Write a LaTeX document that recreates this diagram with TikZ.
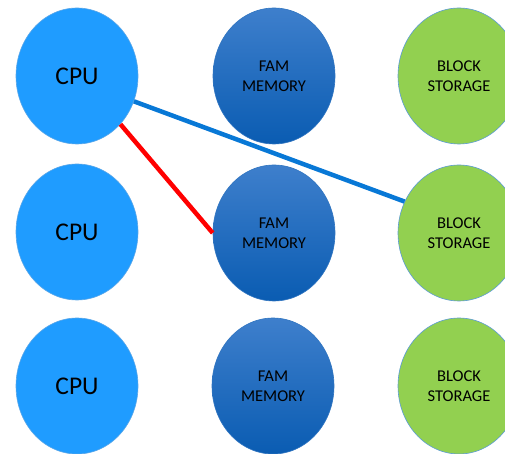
\documentclass[tikz,border=0pt]{standalone}
\usepackage{fontspec}
\setmainfont{Carlito}
\usetikzlibrary{shapes.geometric}
\definecolor{cpublue}{HTML}{1F9CFF}
\definecolor{cpuedge}{HTML}{5AA6E8}
\definecolor{famtop}{HTML}{3E7FCC}
\definecolor{fammid}{HTML}{0468C6}
\definecolor{fambot}{HTML}{0A5CB2}
\definecolor{famedge}{HTML}{2F74C0}
\definecolor{blockgreen}{HTML}{92D050}
\definecolor{blockedge}{HTML}{5B9BD5}
\definecolor{linkblue}{HTML}{0878D6}
\definecolor{linkred}{HTML}{FF0000}
\tikzset{
  unit/.style={ellipse, minimum width=122pt, minimum height=136pt, inner sep=0pt, line width=0.6pt, align=center, text=black},
  cpunode/.style={unit, fill=cpublue, draw=cpuedge, font=\fontsize{25.5}{30}\selectfont},
  famnode/.style={unit, top color=famtop, middle color=fammid, bottom color=fambot, draw=famedge, font=\fontsize{16.5}{20}\selectfont},
  blocknode/.style={unit, fill=blockgreen, draw=blockedge, font=\fontsize{16.5}{20}\selectfont},
  link/.style={line width=4.5pt}
}
\begin{document}
\begin{tikzpicture}[x=1pt,y=1pt]
\useasboundingbox (0,0) rectangle (505,454);
% three rows: CPU, fabric-attached memory, block storage
\node[cpunode]   (cpu1)   at (77,378) {CPU};
\node[cpunode]   (cpu2)   at (77,222) {CPU};
\node[cpunode]   (cpu3)   at (77,68)  {CPU};
\node[famnode]   (fam1)   at (274,378) {FAM\\MEMORY};
\node[famnode]   (fam2)   at (274,221) {FAM\\MEMORY};
\node[famnode]   (fam3)   at (273,68)  {FAM\\MEMORY};
\node[blocknode] (block1) at (459,378) {BLOCK\\STORAGE};
\node[blocknode] (block2) at (459,221) {BLOCK\\STORAGE};
\node[blocknode] (block3) at (459,68)  {BLOCK\\STORAGE};
% connections from the first CPU
\draw[link, linkred]  (cpu1.-48) -- (fam2.180);
\draw[link, linkblue] (cpu1.-24) -- (block2.150);
\end{tikzpicture}
\end{document}
